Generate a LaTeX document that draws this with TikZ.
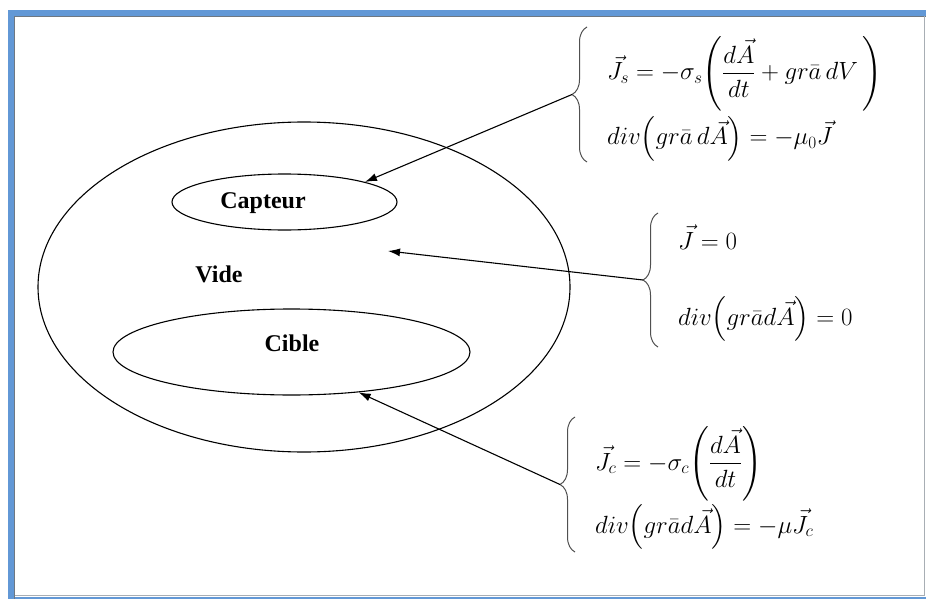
\documentclass[tikz,border=0pt]{standalone}
\usepackage{amsmath}
\usepackage{fontspec}
\setmainfont{Liberation Serif}
\usetikzlibrary{shapes.geometric,arrows.meta,decorations.pathreplacing}
\definecolor{frameblue}{RGB}{98,152,214}
\definecolor{framegray}{RGB}{110,120,130}
\definecolor{bracegray}{RGB}{80,80,80}
\begin{document}
\begin{tikzpicture}[x=1pt,y=-1pt,
  region/.style={draw=black, line width=1.1pt, ellipse, inner sep=0pt},
  lbl/.style={font=\fontsize{24}{28}\selectfont\bfseries, inner sep=0pt},
  eq/.style={anchor=base west, inner sep=0pt, font=\fontsize{23}{27}\selectfont},
  brc/.style={draw=bracegray, line width=1pt, decorate, decoration={brace, amplitude=15pt}},
  arr/.style={draw=black, line width=1.1pt, -{Latex[length=12pt,width=8pt]}}]
\useasboundingbox (0,0) rectangle (926,599);
% frame
\fill[frameblue] (8,10) rectangle (926,16);
\fill[frameblue] (8,10) rectangle (14,599);
\fill[frameblue] (8,597) rectangle (926,599);
\draw[framegray, line width=1pt] (14.5,599) -- (14.5,16.5) -- (926,16.5);
\draw[framegray!60, line width=1pt] (14.5,595.5) -- (924,595.5) -- (924,16.5);
% regions
\node[region, minimum width=532pt, minimum height=330pt] (vide) at (304,287) {};
\node[region, minimum width=225pt, minimum height=56pt] (capteur) at (284.5,202) {};
\node[region, minimum width=357pt, minimum height=86pt] (cible) at (291.5,352) {};
\node[lbl] (tcapteur) at (263,203) {Capteur};
\node[lbl] (tcible) at (292,343) {Cible};
\node[lbl] (tvide) at (219,274) {Vide};
% equations
\node[eq] (e1) at (607,80) {$\vec{J}_{s} = -\sigma_{s}\!\left(\dfrac{d\vec{A}}{dt} + gr\bar{a}\,dV\,\right)$};
\node[eq] (e2) at (607,145) {$div\!\left(gr\bar{a}\,d\vec{A}\right) = -\mu_{0}\vec{J}$};
\node[eq] (m1) at (678,249) {$\vec{J} = 0$};
\node[eq] (m2) at (678,325) {$div\!\left(gr\bar{a}d\vec{A}\right) = 0$};
\node[eq] (c1) at (595,470) {$\vec{J}_{c} = -\sigma_{c}\!\left(\dfrac{d\vec{A}}{dt}\right)$};
\node[eq] (c2) at (595,533) {$div\!\left(gr\bar{a}d\vec{A}\right) = -\mu\vec{J}_{c}$};
% braces
\draw[brc] (587,162) -- (587,27);
\draw[brc] (658,347) -- (658,213);
\draw[brc] (575,552) -- (575,417);
\coordinate (b1) at (572,94.5);
\coordinate (b2) at (643,280);
\coordinate (b3) at (560,484.5);
\coordinate (pvide) at (388,251);
% arrows
\draw[arr] (b1) -- (capteur.14);
\draw[arr] (b2) -- (pvide);
\draw[arr] (b3) -- (cible.-31);
\end{tikzpicture}
\end{document}
